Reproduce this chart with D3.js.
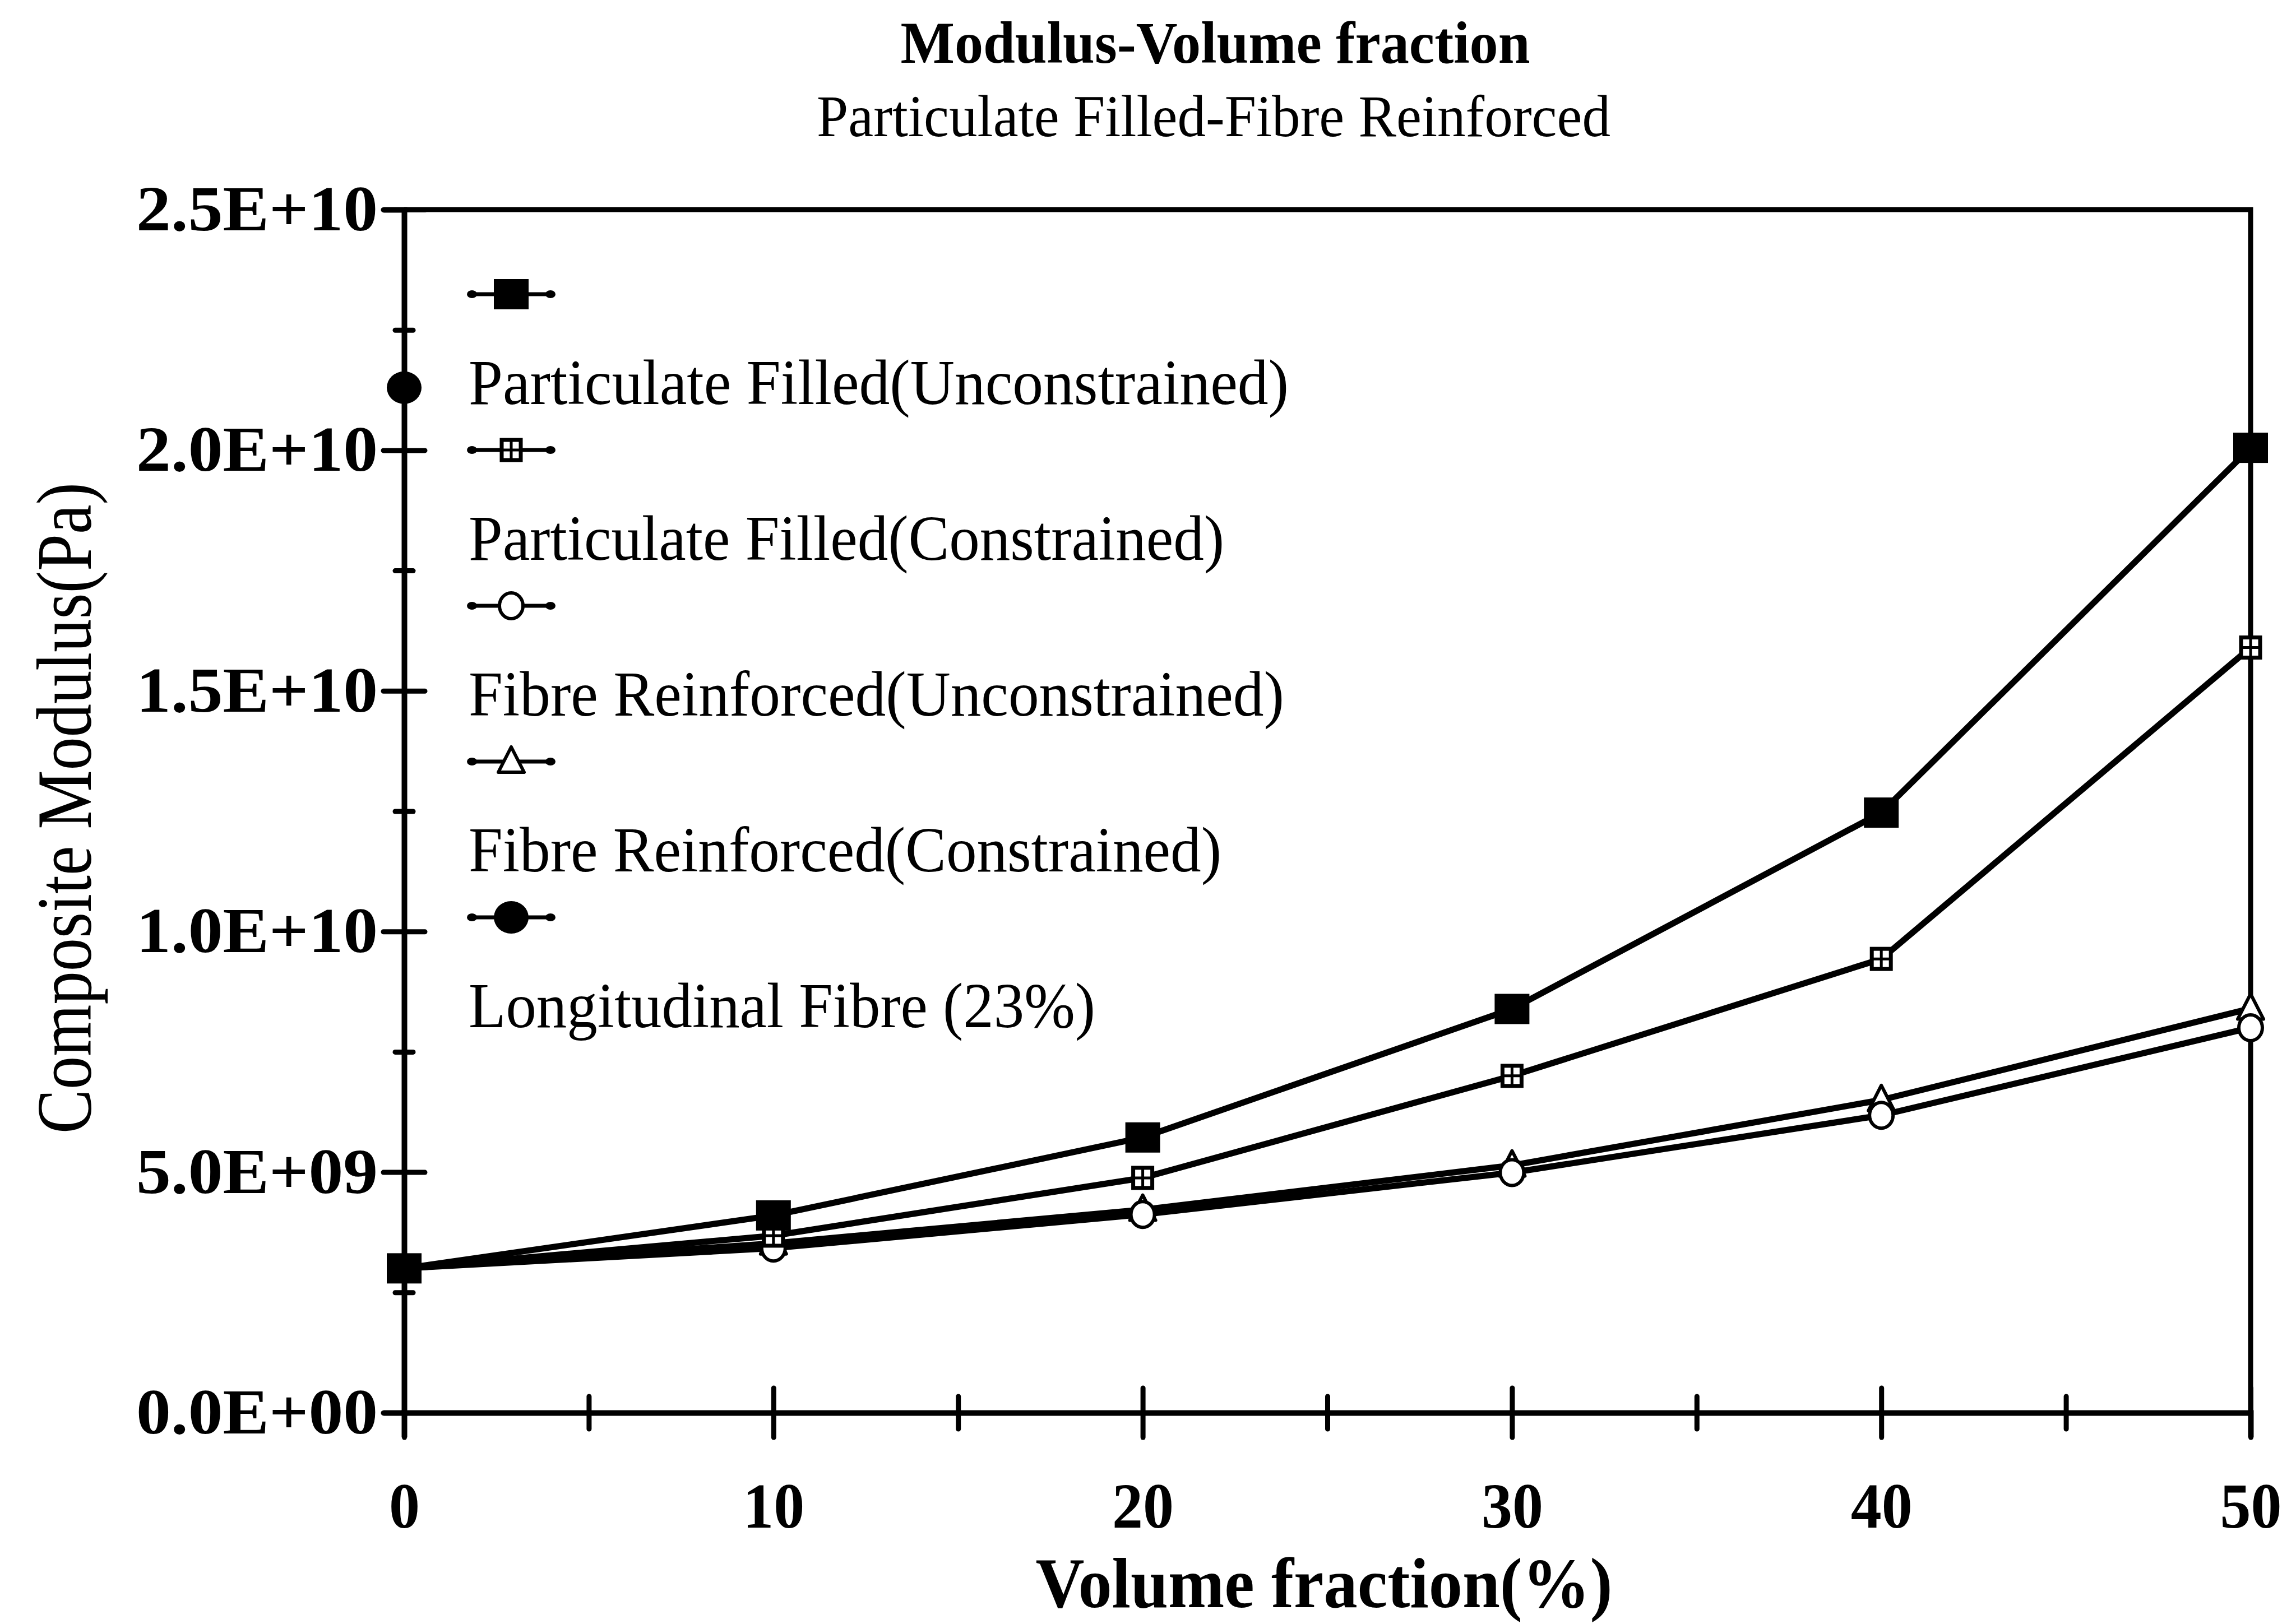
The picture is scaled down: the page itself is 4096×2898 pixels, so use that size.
<!DOCTYPE html>
<html>
<head>
<meta charset="utf-8">
<script src="https://cdn.jsdelivr.net/npm/d3@7"></script>
<style>
	body { margin: 0; background: #fff; }
	svg { display: block; }
</style>
</head>
<body>
<svg id="chart" width="4096" height="2898"></svg>
<script>
// values
var volumeFraction = [0, 10, 20, 30, 40, 50];
var particulateUnconstrained = [3.0e9, 4.1e9, 5.72e9, 8.39e9, 12.47e9, 20.05e9];
var particulateConstrained = [3.0e9, 3.68e9, 4.88e9, 7.0e9, 9.43e9, 15.9e9];
var fibreUnconstrained = [3.0e9, 3.42e9, 4.12e9, 4.99e9, 6.18e9, 8.0e9];
var fibreConstrained = [3.0e9, 3.52e9, 4.22e9, 5.14e9, 6.5e9, 8.4e9];
var longitudinalX = [0];
var longitudinalFibre = [2.13e10];

var seriesNames = [
	"Particulate Filled(Unconstrained)",
	"Particulate Filled(Constrained)",
	"Fibre Reinforced(Unconstrained)",
	"Fibre Reinforced(Constrained)",
	"Longitudinal Fibre (23%)"
];
var markerTypes = ["filledSquare", "crossSquare", "openCircle", "triangle", "filledCircle"];

var yTickValues = [0, 5e9, 1e10, 1.5e10, 2e10, 2.5e10];
var yTickLabels = ["0.0E+00", "5.0E+09", "1.0E+10", "1.5E+10", "2.0E+10", "2.5E+10"];
var yMinorTicks = [2.5e9, 7.5e9, 1.25e10, 1.75e10, 2.25e10];
var xTickValues = [0, 10, 20, 30, 40, 50];
var xMinorTicks = [5, 15, 25, 35, 45];

var series = [
	{ x: volumeFraction, y: particulateUnconstrained },
	{ x: volumeFraction, y: particulateConstrained },
	{ x: volumeFraction, y: fibreUnconstrained },
	{ x: volumeFraction, y: fibreConstrained },
	{ x: longitudinalX, y: longitudinalFibre }
];

var serif = "'Liberation Serif', 'Times New Roman', serif";

var svg = d3.select("#chart");
var width = 4096, height = 2898;
var margin = { left: 721, right: width - 4015, top: 374, bottom: height - 2521 };

var x = d3.scaleLinear().domain([0, 50]).range([margin.left, width - margin.right]);
var y = d3.scaleLinear().domain([0, 2.5e10]).range([height - margin.bottom, margin.top]);

// titles
svg.append("text")
	.attr("x", 2168).attr("y", 112)
	.attr("text-anchor", "middle")
	.attr("textLength", 1123).attr("lengthAdjust", "spacingAndGlyphs")
	.style("font-family", serif).style("font-weight", "bold").style("font-size", "106px")
	.text("Modulus-Volume fraction");

svg.append("text")
	.attr("x", 2165).attr("y", 243)
	.attr("text-anchor", "middle")
	.attr("textLength", 1416).attr("lengthAdjust", "spacingAndGlyphs")
	.style("font-family", serif).style("font-size", "106px")
	.text("Particulate Filled-Fibre Reinforced");

// frame on top and right
svg.append("path")
	.attr("d", "M" + x(0) + "," + y(2.5e10) + "H" + x(50) + "V" + y(0))
	.attr("fill", "none")
	.attr("stroke", "#000")
	.attr("stroke-width", 9);

// y axis
var yAxis = svg.append("g")
	.attr("transform", "translate(" + x(0) + ",0)")
	.call(d3.axisLeft(y)
		.tickValues(yTickValues)
		.tickFormat((d, i) => yTickLabels[i])
		.tickSize(37)
		.tickPadding(10));

yAxis.selectAll(".tick line").attr("x1", -37).attr("x2", 37);

svg.append("g")
	.attr("class", "minor")
	.attr("transform", "translate(" + x(0) + ",0)")
	.call(d3.axisLeft(y).tickValues(yMinorTicks).tickFormat("").tickSize(16))
	.selectAll(".tick line").attr("x1", -16).attr("x2", 16);

// x axis
var xAxis = svg.append("g")
	.attr("transform", "translate(0," + y(0) + ")")
	.call(d3.axisBottom(x)
		.tickValues(xTickValues)
		.tickSize(44));

xAxis.selectAll(".tick line").attr("y1", -44).attr("y2", 44);

svg.append("g")
	.attr("class", "minor")
	.attr("transform", "translate(0," + y(0) + ")")
	.call(d3.axisBottom(x).tickValues(xMinorTicks).tickFormat("").tickSize(29))
	.selectAll(".tick line").attr("y1", -29).attr("y2", 29);

svg.selectAll(".domain")
	.attr("stroke-width", 10);

svg.selectAll(".minor .domain").remove();

svg.selectAll(".tick line")
	.attr("stroke-width", 9)
	.attr("stroke-linecap", "round");

yAxis.selectAll(".tick text")
	.attr("textLength", 431).attr("lengthAdjust", "spacingAndGlyphs")
	.style("font-family", serif).style("font-weight", "bold").style("font-size", "114px");

xAxis.selectAll(".tick text")
	.attr("y", 205).attr("dy", 0)
	.attr("textLength", (d) => d === 0 ? 55 : 110).attr("lengthAdjust", "spacingAndGlyphs")
	.style("font-family", serif).style("font-weight", "bold").style("font-size", "114px");

// axis titles
svg.append("text")
	.attr("transform", "translate(162,1442) rotate(-90)")
	.attr("text-anchor", "middle")
	.attr("textLength", 1162).attr("lengthAdjust", "spacingAndGlyphs")
	.style("font-family", serif).style("font-size", "140px")
	.text("Composite Modulus(Pa)");

svg.append("text")
	.attr("x", 2362).attr("y", 2868)
	.attr("text-anchor", "middle")
	.attr("textLength", 1029).attr("lengthAdjust", "spacingAndGlyphs")
	.style("font-family", serif).style("font-weight", "bold").style("font-size", "128px")
	.text("Volume fraction(%)");

function drawMarker(g, type) {
	if (type === "filledSquare") {
		g.append("rect").attr("x", -31).attr("y", -27).attr("width", 62).attr("height", 54).attr("fill", "#000");
	} else if (type === "crossSquare") {
		g.append("rect").attr("x", -17).attr("y", -18).attr("width", 34).attr("height", 36)
			.attr("fill", "#fff").attr("stroke", "#000").attr("stroke-width", 7);
		g.append("path").attr("d", "M-17,0H17M0,-18V18").attr("stroke", "#000").attr("stroke-width", 5);
	} else if (type === "openCircle") {
		g.append("ellipse").attr("rx", 21).attr("ry", 23)
			.attr("fill", "#fff").attr("stroke", "#000").attr("stroke-width", 6);
	} else if (type === "triangle") {
		g.append("path").attr("d", "M0,-26L23,19H-23Z")
			.attr("fill", "#fff").attr("stroke", "#000").attr("stroke-width", 6).attr("stroke-linejoin", "round");
	} else if (type === "filledCircle") {
		g.append("ellipse").attr("rx", 31).attr("ry", 29).attr("fill", "#000");
	}
}

// series lines
var line = d3.line()
	.x((d) => x(d[0]))
	.y((d) => y(d[1]));

series.forEach((s) => {
	svg.append("path")
		.datum(d3.zip(s.x, s.y))
		.attr("d", line)
		.attr("fill", "none")
		.attr("stroke", "#000")
		.attr("stroke-width", 11)
		.attr("stroke-linejoin", "round");
});

// markers, last series first so the filled squares sit on top
series.slice().reverse().forEach((s, k) => {
	var type = markerTypes[series.length - 1 - k];
	d3.zip(s.x, s.y).forEach((p) => {
		var g = svg.append("g").attr("transform", "translate(" + x(p[0]) + "," + y(p[1]) + ")");
		drawMarker(g, type);
	});
});

// legend
var legendTextWidths = [1463, 1348, 1455, 1343, 1118];

seriesNames.forEach((name, i) => {
	var sy = 525 + i * 278;
	var lg = svg.append("g").attr("transform", "translate(912," + sy + ")");

	lg.append("line")
		.attr("x1", -72).attr("x2", 72)
		.attr("stroke", "#000").attr("stroke-width", 7);
	lg.append("ellipse").attr("cx", -70).attr("rx", 9).attr("ry", 7).attr("fill", "#000");
	lg.append("ellipse").attr("cx", 70).attr("rx", 9).attr("ry", 7).attr("fill", "#000");

	drawMarker(lg, markerTypes[i]);

	svg.append("text")
		.attr("x", 836).attr("y", sy + 196)
		.attr("textLength", legendTextWidths[i]).attr("lengthAdjust", "spacingAndGlyphs")
		.style("font-family", serif).style("font-size", "114px")
		.text(name);
});
</script>
</body>
</html>
